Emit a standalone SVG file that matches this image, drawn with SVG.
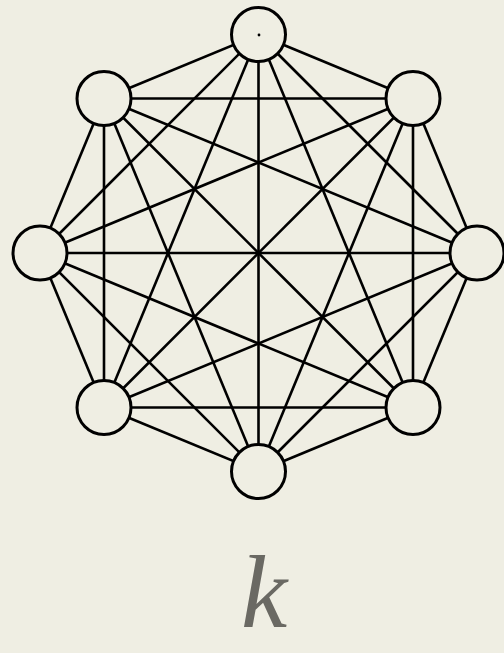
<svg xmlns="http://www.w3.org/2000/svg" width="504" height="653" viewBox="0 0 504 653">
<style>
.e{stroke:#000;stroke-width:2.6;fill:none}
.n{fill:#efeee3;stroke:#000;stroke-width:3}
.lbl{font-family:"Liberation Serif","DejaVu Serif",serif;font-style:italic;font-size:104px;fill:#6a6963}
</style>
<rect width="504" height="653" fill="#efeee3"/>
<g id="edges" class="e">
<line x1="258.5" y1="34.5" x2="413" y2="98.5"/>
<line x1="258.5" y1="34.5" x2="477" y2="253"/>
<line x1="258.5" y1="34.5" x2="413" y2="407.5"/>
<line x1="258.5" y1="34.5" x2="258.5" y2="471.5"/>
<line x1="258.5" y1="34.5" x2="104" y2="407.5"/>
<line x1="258.5" y1="34.5" x2="40" y2="253"/>
<line x1="258.5" y1="34.5" x2="104" y2="98.5"/>
<line x1="413" y1="98.5" x2="477" y2="253"/>
<line x1="413" y1="98.5" x2="413" y2="407.5"/>
<line x1="413" y1="98.5" x2="258.5" y2="471.5"/>
<line x1="413" y1="98.5" x2="104" y2="407.5"/>
<line x1="413" y1="98.5" x2="40" y2="253"/>
<line x1="413" y1="98.5" x2="104" y2="98.5"/>
<line x1="477" y1="253" x2="413" y2="407.5"/>
<line x1="477" y1="253" x2="258.5" y2="471.5"/>
<line x1="477" y1="253" x2="104" y2="407.5"/>
<line x1="477" y1="253" x2="40" y2="253"/>
<line x1="477" y1="253" x2="104" y2="98.5"/>
<line x1="413" y1="407.5" x2="258.5" y2="471.5"/>
<line x1="413" y1="407.5" x2="104" y2="407.5"/>
<line x1="413" y1="407.5" x2="40" y2="253"/>
<line x1="413" y1="407.5" x2="104" y2="98.5"/>
<line x1="258.5" y1="471.5" x2="104" y2="407.5"/>
<line x1="258.5" y1="471.5" x2="40" y2="253"/>
<line x1="258.5" y1="471.5" x2="104" y2="98.5"/>
<line x1="104" y1="407.5" x2="40" y2="253"/>
<line x1="104" y1="407.5" x2="104" y2="98.5"/>
<line x1="40" y1="253" x2="104" y2="98.5"/>
</g>
<g id="v0"><circle class="n" cx="258.5" cy="34.5" r="27"/><circle cx="259" cy="35" r="1.4" fill="#000"/></g>
<g id="v1"><circle class="n" cx="413" cy="98.5" r="27"/></g>
<g id="v2"><circle class="n" cx="477" cy="253" r="27"/></g>
<g id="v3"><circle class="n" cx="413" cy="407.5" r="27"/></g>
<g id="v4"><circle class="n" cx="258.5" cy="471.5" r="27"/></g>
<g id="v5"><circle class="n" cx="104" cy="407.5" r="27"/></g>
<g id="v6"><circle class="n" cx="40" cy="253" r="27"/></g>
<g id="v7"><circle class="n" cx="104" cy="98.5" r="27"/></g>
<text id="label" class="lbl" x="264" y="627" text-anchor="middle">k</text>
</svg>
